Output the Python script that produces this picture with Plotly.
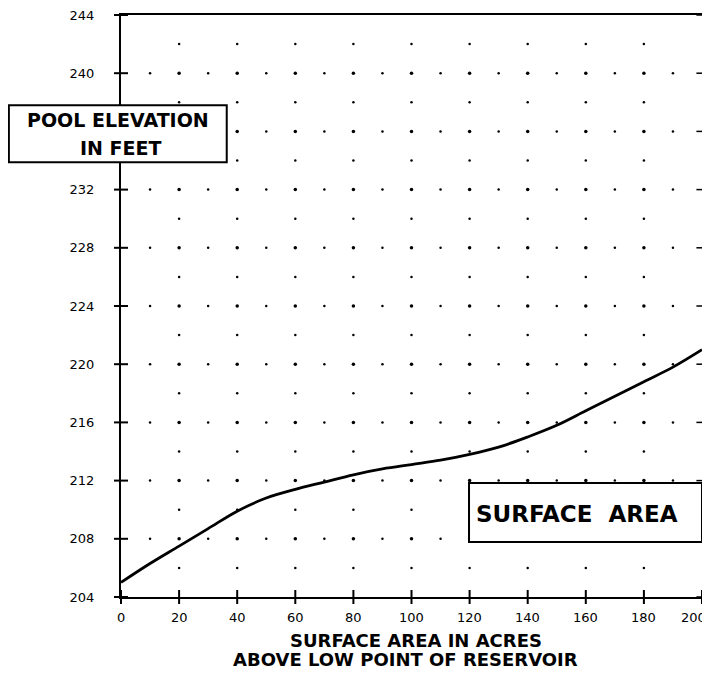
import plotly.graph_objects as go

# data
area_acres = [0, 10, 20, 30, 40, 50, 60, 70, 80, 90, 100, 110, 120, 130, 140, 150, 160, 170, 180, 190, 200]
elev_feet = [205.0, 206.3, 207.5, 208.7, 209.9, 210.8, 211.4, 211.9, 212.4, 212.8, 213.1,
             213.4, 213.8, 214.3, 215.0, 215.8, 216.8, 217.8, 218.8, 219.8, 221.0]

x_ticks = [0, 20, 40, 60, 80, 100, 120, 140, 160, 180, 200]
x_tick_labels = ["0", "20", "40", "60", "80", "100", "120", "140", "160", "180", "200"]
y_ticks = [204, 208, 212, 216, 220, 224, 228, 232, 236, 240, 244]
# the 236 label is hidden behind the "POOL ELEVATION" box in the reference
y_tick_labels = ["204", "208", "212", "216", "220", "224", "228", "232", "", "240", "244"]

FONT = "DejaVu Sans"

# dotted grid: rows every 2 ft, columns every 10 acres
big_x, big_y, small_x, small_y = [], [], [], []
for yv in range(206, 244, 2):
    for xv in range(10, 200, 10):
        if yv % 4 == 0:
            if xv % 20 == 0:
                big_x.append(xv); big_y.append(yv)
            else:
                small_x.append(xv); small_y.append(yv)
        elif xv % 20 == 0:
            small_x.append(xv); small_y.append(yv)

fig = go.Figure()
fig.add_trace(go.Scatter(x=small_x, y=small_y, mode="markers",
                         marker=dict(size=2.5, color="black"), hoverinfo="skip"))
fig.add_trace(go.Scatter(x=big_x, y=big_y, mode="markers",
                         marker=dict(size=3.5, color="black"), hoverinfo="skip"))
# cross ticks on the axes
fig.add_trace(go.Scatter(x=x_ticks, y=[204] * len(x_ticks), mode="markers",
                         marker=dict(symbol="line-ns", size=10, line=dict(width=2, color="black")),
                         cliponaxis=False, hoverinfo="skip"))
fig.add_trace(go.Scatter(x=[0] * len(y_ticks), y=y_ticks, mode="markers",
                         marker=dict(symbol="line-ew", size=10, line=dict(width=2, color="black")),
                         cliponaxis=False, hoverinfo="skip"))
fig.add_trace(go.Scatter(x=[200] * len(y_ticks), y=y_ticks, mode="markers",
                         marker=dict(symbol="line-ew", size=8, line=dict(width=1.5, color="black")),
                         cliponaxis=False, hoverinfo="skip"))
# the curve
fig.add_trace(go.Scatter(x=area_acres, y=elev_feet, mode="lines",
                         line=dict(color="black", width=2.8, shape="spline", smoothing=1.0),
                         hoverinfo="skip"))

fig.update_xaxes(range=[0, 200], tickvals=x_ticks, showticklabels=False,
                 showgrid=False, zeroline=False, showline=True, linecolor="black",
                 linewidth=2, mirror=True, ticks="")
fig.update_yaxes(range=[204, 244], tickvals=y_ticks, ticktext=y_tick_labels,
                 showgrid=False, zeroline=False, showline=True, linecolor="black",
                 linewidth=2, mirror=True, ticks="", ticklabelstandoff=22,
                 ticklabeloverflow="allow",
                 tickfont=dict(family=FONT, size=13, color="black"))

shapes = [
    dict(type="rect", xref="paper", yref="paper", x0=-0.193, x1=0.182, y0=0.747, y1=0.845,
         line=dict(color="black", width=2), fillcolor="white", layer="above"),
    dict(type="rect", xref="paper", yref="paper", x0=0.599, x1=1.0, y0=0.0945, y1=0.196,
         line=dict(color="black", width=2), fillcolor="white", layer="above"),
]

annotations = []
# x tick labels placed on the x axis scale (last one kept inside the window)
for xv, lab in zip(x_ticks, x_tick_labels):
    last = xv == x_ticks[-1]
    annotations.append(dict(
        text=lab, xref="x", yref="paper", x=xv, y=-0.0344,
        xanchor="right" if last else "center", yanchor="middle",
        xshift=6 if last else 0,
        showarrow=False, font=dict(family=FONT, size=13, color="black")))

annotations += [
    dict(text="POOL ELEVATION", xref="paper", yref="paper", x=-0.005, y=0.820,
         xanchor="center", yanchor="middle",
         showarrow=False, font=dict(family=FONT, size=19, color="black", weight="bold")),
    dict(text="IN FEET", xref="paper", yref="paper", x=0.0, y=0.772,
         xanchor="center", yanchor="middle",
         showarrow=False, font=dict(family=FONT, size=19, color="black", weight="bold")),
    dict(text="SURFACE  AREA", xref="paper", yref="paper", x=0.785, y=0.143,
         xanchor="center", yanchor="middle",
         showarrow=False, font=dict(family=FONT, size=23, color="black", weight="bold")),
    dict(text="SURFACE AREA IN ACRES", xref="paper", yref="paper", x=0.508, y=-0.0756,
         xanchor="center", yanchor="middle",
         showarrow=False, font=dict(family=FONT, size=18, color="black", weight="bold")),
    dict(text="ABOVE LOW POINT OF RESERVOIR", xref="paper", yref="paper", x=0.49, y=-0.108,
         xanchor="center", yanchor="middle",
         showarrow=False, font=dict(family=FONT, size=18, color="black", weight="bold")),
]

# the page adds an 8px body margin, so the figure is 8px smaller than the window
fig.update_layout(
    width=702, height=671,
    margin=dict(l=113, r=8, t=7, b=82, autoexpand=False),
    paper_bgcolor="white", plot_bgcolor="white",
    showlegend=False,
    shapes=shapes, annotations=annotations,
)

fig.write_html("out.html")
